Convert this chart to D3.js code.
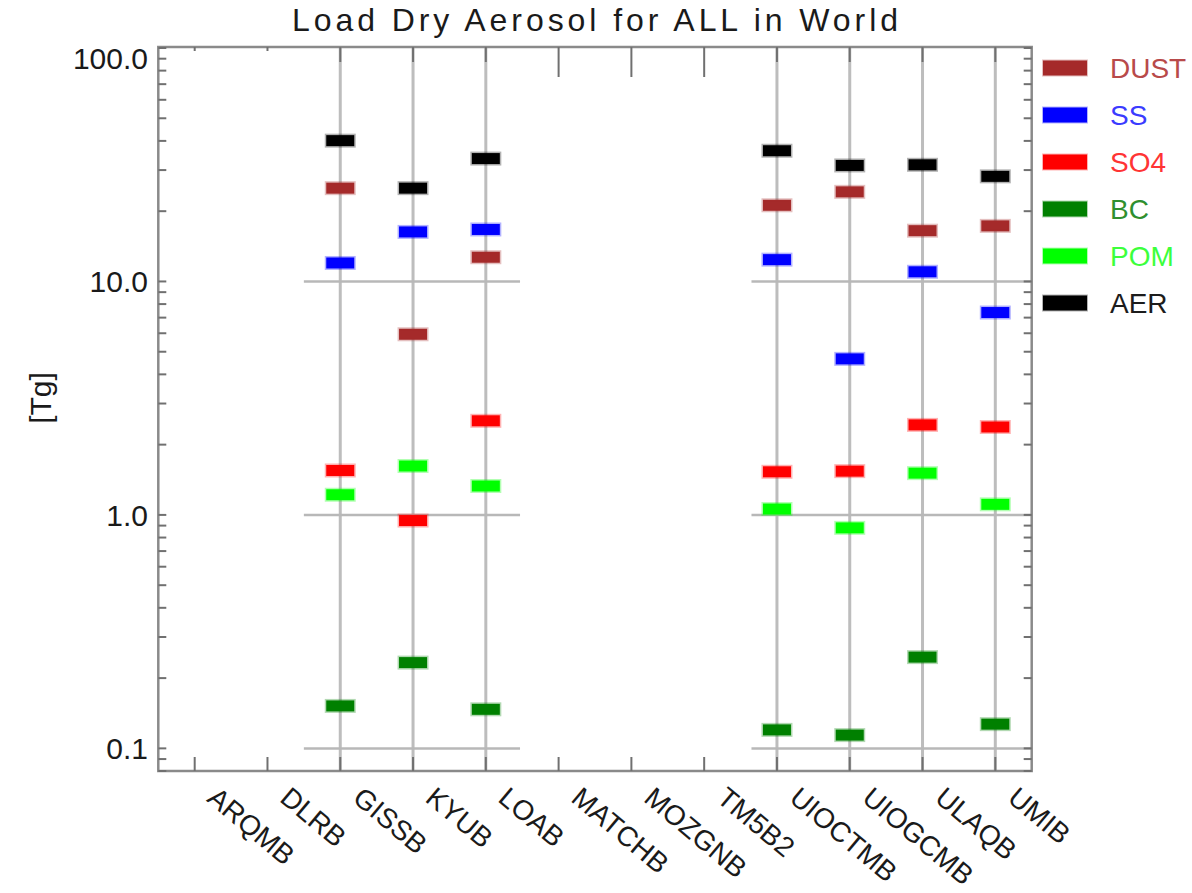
<!DOCTYPE html>
<html>
<head>
<meta charset="utf-8">
<script src="https://cdn.jsdelivr.net/npm/d3@7"></script>
<style>
  body { margin: 0; background: #fff; }
  svg text { font-family: "Liberation Sans", Arial, sans-serif; }
</style>
</head>
<body>
<svg id="chart" width="1192" height="893"></svg>
<script>
// models along the x axis
var models = ["ARQMB", "DLRB", "GISSB", "KYUB", "LOAB", "MATCHB", "MOZGNB",
              "TM5B2", "UIOCTMB", "UIOGCMB", "ULAQB", "UMIB"];

// loads in Tg, null = model did not report
var dust = [null, null, 25.1, 5.94, 12.7, null, null, null, 21.2, 24.2, 16.5, 17.3];
var ss   = [null, null, 12.0, 16.3, 16.7, null, null, null, 12.4, 4.66, 11.0, 7.36];
var so4  = [null, null, 1.55, 0.946, 2.53, null, null, null, 1.53, 1.54, 2.43, 2.38];
var bc   = [null, null, 0.152, 0.233, 0.147, null, null, null, 0.12, 0.114, 0.246, 0.127];
var pom  = [null, null, 1.22, 1.62, 1.33, null, null, null, 1.06, 0.88, 1.51, 1.11];
var aer  = [null, null, 40.1, 25.1, 33.6, null, null, null, 36.3, 31.4, 31.6, 28.2];

var seriesNames  = ["DUST", "SS", "SO4", "BC", "POM", "AER"];
var seriesColors = ["#a52a2a", "#0000ff", "#ff0000", "#008000", "#00ff00", "#000000"];
var labelColors  = ["#b84a4a", "#3b3bff", "#ff3434", "#2f8f2f", "#3cff3c", "#1c1c1c"];

var yTickVals   = [100, 10, 1, 0.1];
var yTickLabels = ["100.0", "10.0", "1.0", "0.1"];

var svg = d3.select("#chart"),
    pLeft = 158.3, pRight = 1031.7, pTop = 48, pBottom = 771;

var x = d3.scalePoint().domain(models).range([pLeft, pRight]).padding(0.5);
var y = d3.scaleLog().domain([0.08, 100]).range([pBottom, pTop]);
var step = x.step();

var series = [dust, ss, so4, bc, pom, aer];

function hasData(i) { return aer[i] != null; }

// vertical lines through the models that have data
svg.append("g").selectAll("line")
    .data(models.filter(function (m, i) { return hasData(i); }))
    .join("line")
    .attr("x1", function (d) { return x(d); })
    .attr("x2", function (d) { return x(d); })
    .attr("y1", pTop - 1).attr("y2", pBottom)
    .attr("stroke", "#bdbdbd").attr("stroke-width", 3);

// horizontal decade lines, only across the two groups of models
var groups = [["GISSB", "LOAB", 0.5, 0.47], ["UIOCTMB", "UMIB", 0.35, 0.5]];
var gridG = svg.append("g");
groups.forEach(function (g) {
    [10, 1, 0.1].forEach(function (v) {
        gridG.append("line")
            .attr("x1", x(g[0]) - g[2] * step)
            .attr("x2", x(g[1]) + g[3] * step)
            .attr("y1", y(v)).attr("y2", y(v))
            .attr("stroke", "#b8b8b8").attr("stroke-width", 2.5);
    });
});

// frame
svg.append("rect")
    .attr("x", pLeft).attr("y", pTop - 1)
    .attr("width", pRight - pLeft).attr("height", pBottom - pTop + 1)
    .attr("fill", "none").attr("stroke", "#8a8a8a").attr("stroke-width", 2.5);

// y ticks, left and right
var minor = [0.08, 0.09].concat(
    d3.range(2, 10).map(function (k) { return k * 0.1; }),
    d3.range(2, 10),
    d3.range(2, 10).map(function (k) { return k * 10; }));
var allYT = yTickVals.concat(minor);
var tickG = svg.append("g").attr("stroke", "#707070").attr("stroke-width", 2);
allYT.forEach(function (v) {
    tickG.append("line").attr("x1", pLeft).attr("x2", pLeft + 8)
        .attr("y1", y(v)).attr("y2", y(v));
    tickG.append("line").attr("x1", pRight).attr("x2", pRight - 8)
        .attr("y1", y(v)).attr("y2", y(v));
});

// x ticks, bottom and top
models.forEach(function (m, i) {
    tickG.append("line").attr("x1", x(m)).attr("x2", x(m))
        .attr("y1", pBottom).attr("y2", pBottom - 14);
    var len = hasData(i) ? 15 : (i < 2 ? 4 : 30);
    tickG.append("line").attr("x1", x(m)).attr("x2", x(m))
        .attr("y1", pTop - 1).attr("y2", pTop - 1 + len);
});

// y tick labels
svg.append("g").selectAll("text")
    .data(yTickVals)
    .join("text")
    .attr("x", 148)
    .attr("y", function (d, i) { return y(d) + (i == 0 ? 10 : 0); })
    .attr("dy", "0.36em")
    .attr("text-anchor", "end")
    .attr("font-size", 30)
    .attr("fill", "#1a1a1a")
    .text(function (d, i) { return yTickLabels[i]; });

// x tick labels, slanted
svg.append("g").selectAll("text")
    .data(models)
    .join("text")
    .attr("transform", function (d) {
        return "translate(" + (x(d) + 24) + "," + 785 + ") rotate(40)";
    })
    .attr("dy", "0.72em")
    .attr("font-size", 28)
    .attr("fill", "#1a1a1a")
    .text(function (d) { return d; });

// markers
series.forEach(function (vals, s) {
    svg.append("g").selectAll("rect")
        .data(models.map(function (m, i) { return {m: m, v: vals[i]}; })
            .filter(function (d) { return d.v != null; }))
        .join("rect")
        .attr("x", function (d) { return x(d.m) - 14; })
        .attr("y", function (d) { return y(d.v) - 5.5; })
        .attr("width", 28).attr("height", 11)
        .attr("fill", seriesColors[s])
        .attr("stroke", seriesColors[s]).attr("stroke-opacity", 0.3)
        .attr("stroke-width", 3);
});

// title
svg.append("text")
    .attr("x", (pLeft + pRight) / 2).attr("y", 31)
    .attr("text-anchor", "middle")
    .attr("font-family", "DejaVu Sans")
    .attr("font-size", 32)
    .attr("textLength", 606).attr("lengthAdjust", "spacing")
    .attr("fill", "#1a1a1a")
    .text("Load Dry Aerosol for ALL in World");

// y axis title
svg.append("text")
    .attr("transform", "translate(40,398) rotate(-90)")
    .attr("text-anchor", "middle").attr("dy", "0.36em")
    .attr("font-size", 30)
    .attr("fill", "#1a1a1a")
    .text("[Tg]");

// legend
var legend = svg.append("g").selectAll("g")
    .data(seriesNames)
    .join("g")
    .attr("transform", function (d, i) { return "translate(1043," + (68 + i * 47) + ")"; });
legend.append("rect")
    .attr("x", 0).attr("y", -7.5).attr("width", 44).attr("height", 15)
    .attr("fill", function (d, i) { return seriesColors[i]; })
    .attr("stroke", function (d, i) { return seriesColors[i]; })
    .attr("stroke-opacity", 0.3).attr("stroke-width", 2);
legend.append("text")
    .attr("x", 67).attr("dy", "0.36em")
    .attr("font-size", 28)
    .attr("fill", function (d, i) { return labelColors[i]; })
    .text(function (d) { return d; });
</script>
</body>
</html>
